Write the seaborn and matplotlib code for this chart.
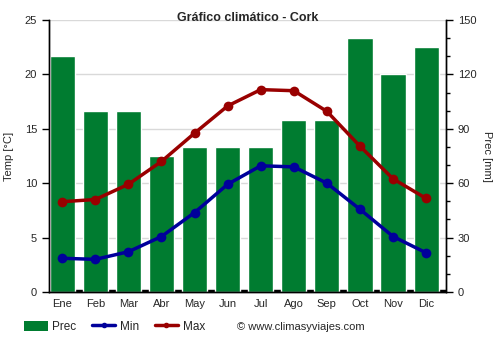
import numpy as np
import pandas as pd
import matplotlib
matplotlib.use("Agg")
import matplotlib.pyplot as plt
from matplotlib.patches import Patch
from matplotlib.lines import Line2D
from matplotlib.ticker import MultipleLocator, FixedLocator
import seaborn as sns

months = ["Ene", "Feb", "Mar", "Abr", "May", "Jun", "Jul", "Ago", "Sep", "Oct", "Nov", "Dic"]
prec = [130, 100, 100, 75, 80, 80, 80, 95, 95, 140, 120, 135]
tmin = [3.1, 3.0, 3.7, 5.1, 7.3, 9.9, 11.6, 11.5, 10.0, 7.6, 5.1, 3.6]
tmax = [8.3, 8.5, 9.9, 12.0, 14.6, 17.1, 18.6, 18.5, 16.6, 13.4, 10.4, 8.6]

GREEN = "#007c30"
BLUE = "#00009b"
RED = "#990000"

sns.set_style("white")
plt.rcParams["font.family"] = ["Liberation Sans", "DejaVu Sans"]

df = pd.DataFrame({"mes": months, "x": np.arange(12), "prec": prec, "tmin": tmin, "tmax": tmax})

fig = plt.figure(figsize=(5, 3.5), dpi=100)
ax = fig.add_axes([0.098, 0.1657, 0.794, 0.7772])

# precipitation bars (right-hand scale)
sns.barplot(data=df, x="mes", y="prec", order=months, color=GREEN, saturation=1,
            width=0.76, ax=ax, zorder=2)
ax.axhline(0, color="black", lw=3.2, zorder=1)
ax.set_ylim(0, 150)
ax.set_xlim(-0.4, 11.6)

# temperature lines (left-hand scale)
ax2 = ax.twinx()
sns.lineplot(data=df, x="x", y="tmin", color=BLUE, lw=2.5, marker="o", markersize=7,
             markeredgewidth=0, ax=ax2, zorder=3)
sns.lineplot(data=df, x="x", y="tmax", color=RED, lw=2.5, marker="o", markersize=7,
             markeredgewidth=0, ax=ax2, zorder=3)
ax2.set_ylim(0, 25)
ax2.set_xlim(-0.4, 11.6)

# swap sides: temperature on the left, precipitation on the right
ax.yaxis.tick_right()
ax.yaxis.set_label_position("right")
ax2.yaxis.tick_left()
ax2.yaxis.set_label_position("left")

ax.yaxis.set_major_locator(MultipleLocator(30))
ax.yaxis.set_minor_locator(MultipleLocator(10))
ax2.yaxis.set_major_locator(MultipleLocator(5))

ax.xaxis.set_major_locator(FixedLocator(np.arange(-0.4, 11.7, 1.0)))
ax.xaxis.set_minor_locator(FixedLocator(np.arange(12)))
ax.set_xticklabels([""] * len(ax.get_xticks()))
ax.set_xticklabels(months, minor=True)
ax.tick_params(axis="x", which="major", direction="out", length=4, width=1, color="black")
ax.tick_params(axis="x", which="minor", length=0, labelsize=8, pad=5)
ax.tick_params(axis="y", which="major", direction="out", length=5, width=1, labelsize=8,
               right=True, left=False, color="black")
ax.tick_params(axis="y", which="minor", direction="out", length=3, width=1, right=True,
               left=False, color="black")
ax2.tick_params(axis="y", direction="out", length=5, width=1, labelsize=8, left=True,
                right=False, color="black")
ax2.set_xticks([])

ax.grid(True, axis="both", which="major", color="#d9d9d9", lw=1)
ax.set_axisbelow(True)

ax.set_xlabel("")
ax.set_ylabel("Prec [mm]", fontsize=8, rotation=270, labelpad=11)
ax2.set_xlabel("")
ax2.set_ylabel("Temp [°C]", fontsize=8, labelpad=8)

for a in (ax, ax2):
    a.spines["top"].set_visible(False)
    for s in ("left", "right", "bottom"):
        a.spines[s].set_color("black")
        a.spines[s].set_linewidth(1)

ax.set_title("Gráfico climático - Cork", fontsize=9, fontweight="bold", pad=-1, y=1.0)

handles = [
    Patch(facecolor=GREEN, edgecolor="none"),
    Line2D([0], [0], color=BLUE, lw=2.5, marker="o", markersize=3),
    Line2D([0], [0], color=RED, lw=2.5, marker="o", markersize=3),
]
fig.legend(handles, ["Prec", "Min", "Max"], loc="center left", bbox_to_anchor=(0.048, 0.066),
           ncol=3, frameon=False, fontsize=8.5, handlelength=2.0, handleheight=1.0,
           columnspacing=1.3, handletextpad=0.4, borderpad=0, borderaxespad=0)
fig.text(0.474, 0.066, "© www.climasyviajes.com", fontsize=8, va="center", ha="left")

fig.savefig("out.png", dpi=100)
